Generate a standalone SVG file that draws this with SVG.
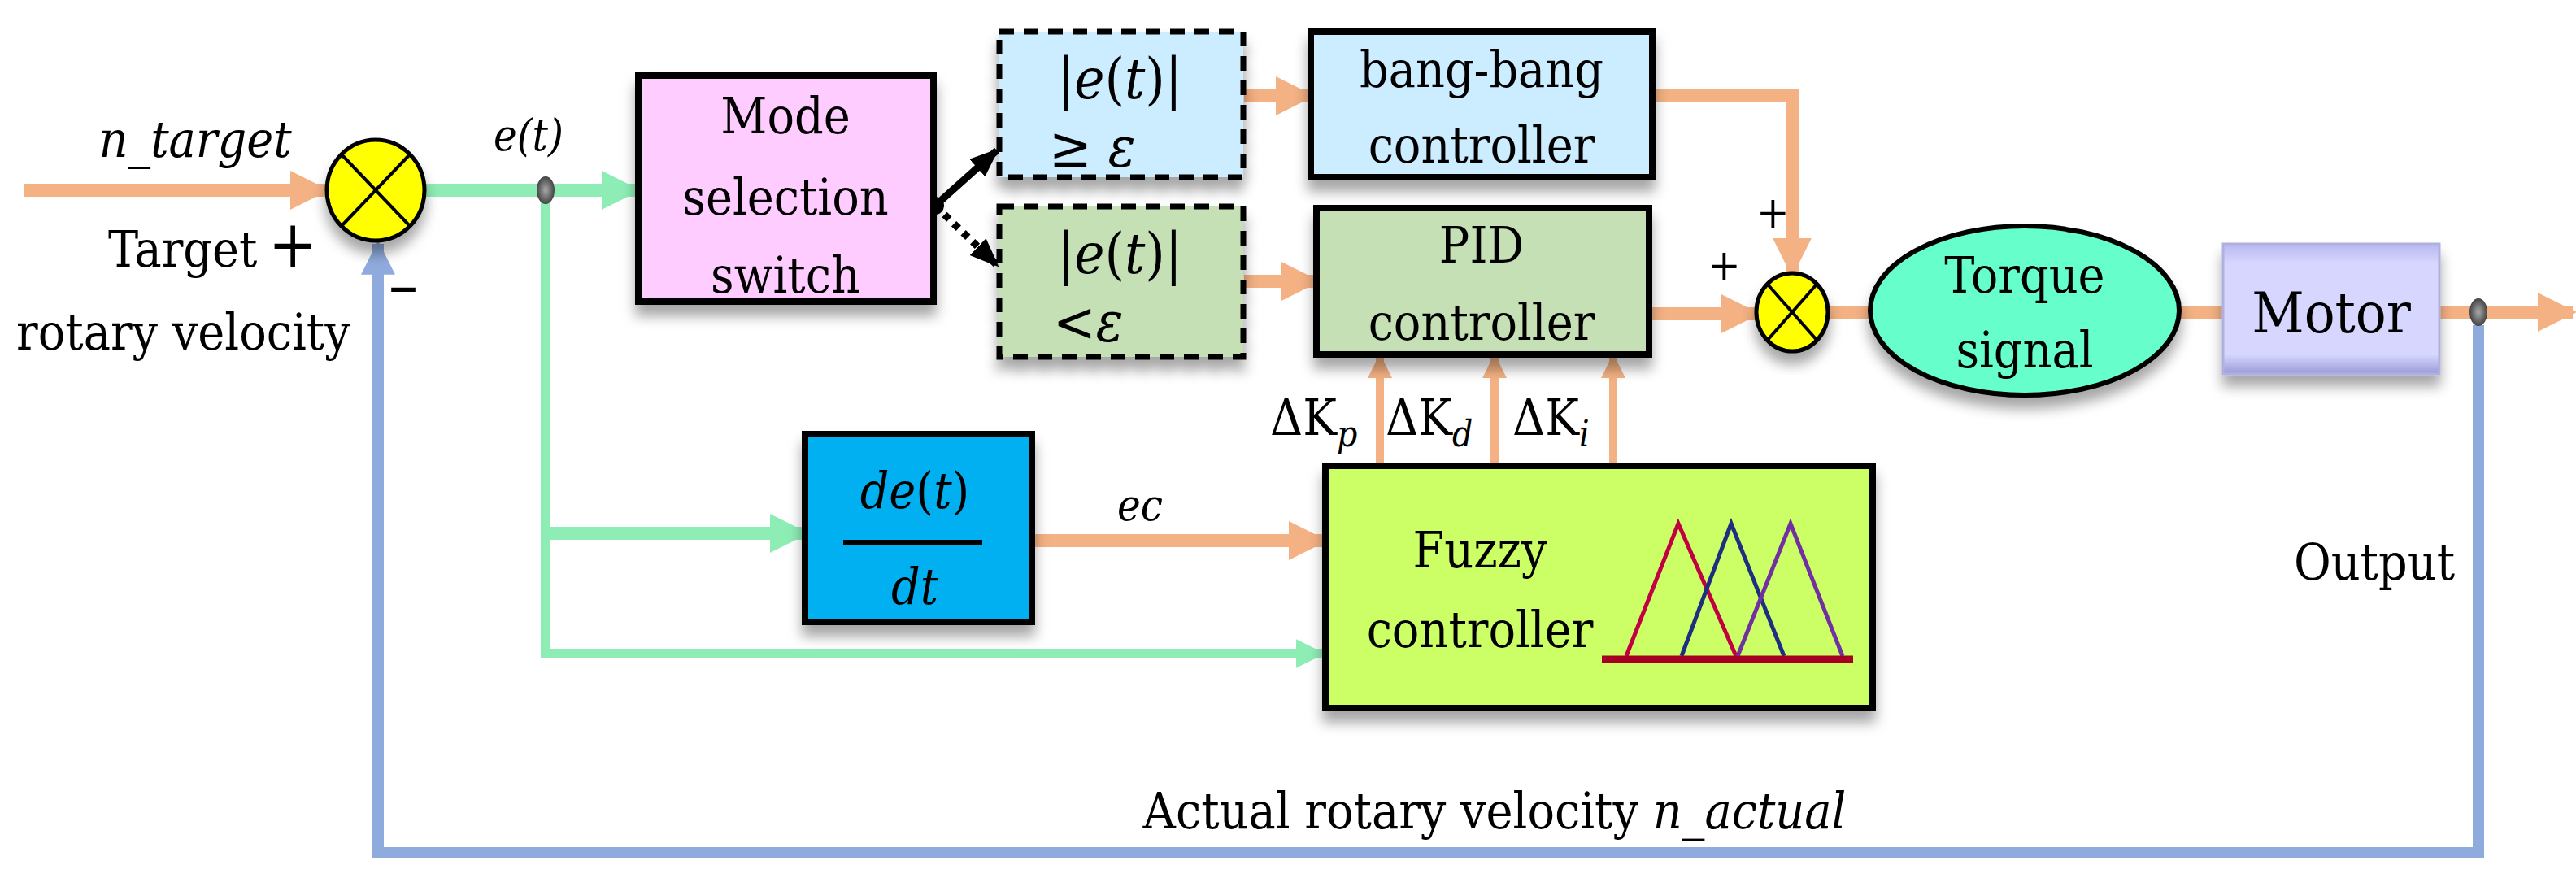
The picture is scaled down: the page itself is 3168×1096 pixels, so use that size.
<svg xmlns="http://www.w3.org/2000/svg" width="3168" height="1096" viewBox="0 0 3168 1096">
<defs>
<style>
text{font-family:'DejaVu Serif Condensed','DejaVu Serif','Liberation Serif',serif;font-size:62px;fill:#000}
.i{font-style:italic}
.c{text-anchor:middle}
.box{stroke:#000;stroke-width:8}
.dash{stroke:#000;stroke-width:7;stroke-dasharray:18 12}
.or{stroke:#F4B183;stroke-width:16;fill:none}
.gr{stroke:#8EEDB5;stroke-width:16;fill:none}
.bl{stroke:#8FAADC;stroke-width:14;fill:none}
</style>
<filter id="sh" x="-20%" y="-20%" width="140%" height="150%"><feDropShadow dx="0" dy="14" stdDeviation="8" flood-color="#000" flood-opacity="0.35"/></filter>
<radialGradient id="dot"><stop offset="0" stop-color="#aaa"/><stop offset="1" stop-color="#444"/></radialGradient>
<linearGradient id="mot" x1="0" y1="0" x2="0" y2="1"><stop offset="0" stop-color="#B8B8F0"/><stop offset="0.15" stop-color="#D6D6FF"/><stop offset="0.85" stop-color="#D6D6FF"/><stop offset="1" stop-color="#9A9AD8"/></linearGradient>
<marker id="ao" viewBox="0 0 10 10" refX="9" refY="5" markerWidth="3" markerHeight="5" orient="auto" markerUnits="strokeWidth"><path d="M0,0L10,5L0,10z" fill="#F4B183"/></marker>
<marker id="ag" viewBox="0 0 10 10" refX="9" refY="5" markerWidth="3" markerHeight="5" orient="auto" markerUnits="strokeWidth"><path d="M0,0L10,5L0,10z" fill="#8EEDB5"/></marker>
<marker id="ab" viewBox="0 0 10 10" refX="9" refY="5" markerWidth="3" markerHeight="5" orient="auto" markerUnits="strokeWidth"><path d="M0,0L10,5L0,10z" fill="#8FAADC"/></marker>
<marker id="ak" viewBox="0 0 10 10" refX="9" refY="5" markerWidth="4" markerHeight="4" orient="auto" markerUnits="strokeWidth"><path d="M0,1L10,5L0,9z" fill="#000"/></marker>
</defs>
<rect width="3168" height="1096" fill="#fff"/>
<g id="connectors">
<line class="or" x1="30" y1="234" x2="400" y2="234" marker-end="url(#ao)"/>
<line class="gr" x1="524" y1="234" x2="783" y2="234" marker-end="url(#ag)"/>
<polyline class="gr" points="671,234 671,804 1626,804" marker-end="url(#ag)" style="stroke-width:12"/>
<polyline class="gr" points="671,656 990,656" marker-end="url(#ag)"/>
<line class="or" x1="1269" y1="665" x2="1628" y2="665" marker-end="url(#ao)"/>
<line class="or" x1="1530" y1="118" x2="1612" y2="118" marker-end="url(#ao)"/>
<line class="or" x1="1530" y1="346" x2="1619" y2="346" marker-end="url(#ao)"/>
<polyline class="or" points="2032,118 2204,118 2204,336" marker-end="url(#ao)"/>
<line class="or" x1="2028" y1="386" x2="2160" y2="386" marker-end="url(#ao)"/>
<line class="or" x1="2250" y1="384" x2="2300" y2="384"/>
<line class="or" x1="2680" y1="384" x2="2734" y2="384"/>
<line class="or" x1="3000" y1="384" x2="3164" y2="384" marker-end="url(#ao)"/>
<line class="or" x1="1697" y1="571" x2="1697" y2="438" marker-end="url(#ao)" style="stroke-width:10"/>
<line class="or" x1="1838" y1="571" x2="1838" y2="438" marker-end="url(#ao)" style="stroke-width:10"/>
<line class="or" x1="1984" y1="571" x2="1984" y2="438" marker-end="url(#ao)" style="stroke-width:10"/>
<polyline class="bl" points="3048,400 3048,1049 465,1049 465,300" marker-end="url(#ab)"/>
<line x1="1150" y1="253" x2="1226" y2="185" stroke="#000" stroke-width="9" marker-end="url(#ak)"/>
<line x1="1150" y1="253" x2="1226" y2="326" stroke="#000" stroke-width="9" stroke-dasharray="8 8" marker-end="url(#ak)"/>
<circle cx="1150" cy="253" r="11" fill="#000"/>
<ellipse cx="671" cy="234" rx="11" ry="17" fill="url(#dot)"/>
<ellipse cx="3048" cy="384" rx="11" ry="17" fill="url(#dot)"/>
</g>
<g id="sum1" filter="url(#sh)">
<ellipse cx="462" cy="234" rx="60" ry="62" fill="#FFFF00" stroke="#000" stroke-width="5"/>
<line x1="420" y1="190" x2="504" y2="278" stroke="#000" stroke-width="4"/>
<line x1="504" y1="190" x2="420" y2="278" stroke="#000" stroke-width="4"/>
</g>
<g id="sum2" filter="url(#sh)">
<ellipse cx="2204" cy="384" rx="44" ry="48" fill="#FFFF00" stroke="#000" stroke-width="5"/>
<line x1="2174" y1="350" x2="2234" y2="418" stroke="#000" stroke-width="4"/>
<line x1="2234" y1="350" x2="2174" y2="418" stroke="#000" stroke-width="4"/>
</g>
<g id="mode"><rect x="785" y="93" width="363" height="278" fill="#FFCCFF" class="box" filter="url(#sh)"/>
<text class="c" x="966" y="164">Mode</text><text class="c" x="966" y="264">selection</text><text class="c" x="966" y="360">switch</text></g>
<g id="cond1"><rect x="1229" y="39" width="300" height="179" fill="#CCECFF" class="dash" filter="url(#sh)"/>
<text class="c" x="1377" y="121" style="font-size:70px"><tspan>|</tspan><tspan class="i">e</tspan><tspan>(</tspan><tspan class="i">t</tspan><tspan>)|</tspan></text><text x="1290" y="205" style="font-size:70px">≥ <tspan class="i">ε</tspan></text></g>
<g id="cond2"><rect x="1229" y="254" width="300" height="185" fill="#C5E0B4" class="dash" filter="url(#sh)"/>
<text class="c" x="1377" y="336" style="font-size:70px"><tspan>|</tspan><tspan class="i">e</tspan><tspan>(</tspan><tspan class="i">t</tspan><tspan>)|</tspan></text><text x="1295" y="420" style="font-size:70px">&lt;<tspan class="i">ε</tspan></text></g>
<g id="bang"><rect x="1612" y="39" width="420" height="179" fill="#CCECFF" class="box" filter="url(#sh)"/>
<text class="c" x="1822" y="107">bang-bang</text><text class="c" x="1822" y="200">controller</text></g>
<g id="pid"><rect x="1619" y="256" width="409" height="180" fill="#C5E0B4" class="box" filter="url(#sh)"/>
<text class="c" x="1822" y="323">PID</text><text class="c" x="1822" y="418">controller</text></g>
<g id="torque"><ellipse cx="2490" cy="382" rx="190" ry="104" fill="#66FFCC" stroke="#000" stroke-width="6" filter="url(#sh)"/>
<text class="c" x="2490" y="360">Torque</text><text class="c" x="2490" y="452">signal</text></g>
<g id="motor"><rect x="2734" y="300" width="266" height="160" fill="url(#mot)" stroke="#B0B0E0" stroke-width="3" filter="url(#sh)"/>
<text class="c" x="2867" y="409" style="font-size:70px">Motor</text></g>
<g id="deriv"><rect x="990" y="534" width="279" height="231" fill="#00B0F0" class="box" filter="url(#sh)"/>
<text class="c i" x="1125" y="625">de<tspan style="font-style:normal">(</tspan>t<tspan style="font-style:normal">)</tspan></text>
<line x1="1037" y1="667" x2="1208" y2="667" stroke="#000" stroke-width="6"/>
<text class="c i" x="1125" y="743">dt</text></g>
<g id="fuzzy"><rect x="1630" y="573" width="673" height="298" fill="#CCFF66" class="box" filter="url(#sh)"/>
<text class="c" x="1820" y="698">Fuzzy</text><text class="c" x="1820" y="796">controller</text>
<polyline points="2000,807 2064,644 2135,807" fill="none" stroke="#C00040" stroke-width="5"/>
<polyline points="2068,807 2129,644 2194,807" fill="none" stroke="#1F2F80" stroke-width="5"/>
<polyline points="2137,807 2202,644 2266,807" fill="none" stroke="#7030A0" stroke-width="5"/>
<line x1="1970" y1="811" x2="2279" y2="811" stroke="#A50021" stroke-width="9"/></g>
<g id="labels">
<text class="c i" x="240" y="193">n_target</text>
<text x="133" y="328">Target</text><text x="330" y="328" style="font-size:80px">+</text>
<text x="20" y="430">rotary velocity</text>
<text x="478" y="378" style="font-size:80px">–</text>
<text class="c i" x="650" y="185" style="font-size:54px">e(t)</text>
<text x="2160" y="280" style="font-size:54px">+</text>
<text x="2100" y="345" style="font-size:54px">+</text>
<text x="1562" y="535">ΔK<tspan class="i" dy="14" style="font-size:44px">p</tspan></text>
<text x="1704" y="535">ΔK<tspan class="i" dy="14" style="font-size:44px">d</tspan></text>
<text x="1860" y="535">ΔK<tspan class="i" dy="14" style="font-size:44px">i</tspan></text>
<text class="c i" x="1402" y="640" style="font-size:54px">ec</text>
<text class="c" x="2920" y="713">Output</text>
<text class="c" x="1838" y="1019">Actual rotary velocity <tspan class="i">n_actual</tspan></text>
</g>
</svg>
